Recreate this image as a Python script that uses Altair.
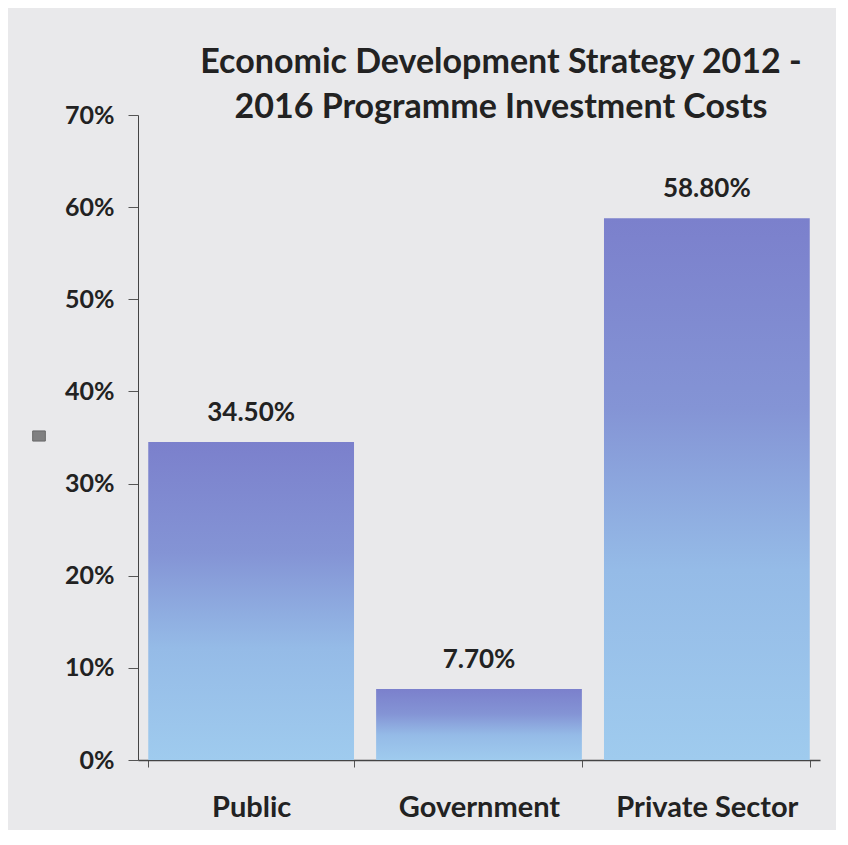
import altair as alt
import pandas as pd

categories = ["Public", "Government", "Private Sector"]
values = [0.345, 0.077, 0.588]
y_ticks = [0, 0.1, 0.2, 0.3, 0.4, 0.5, 0.6, 0.7]

df = pd.DataFrame({"cat": categories, "val": values, "series": [" "] * len(categories)})

FONT = "Lato"
TXT = "#222222"

gradient = alt.Gradient(
    gradient="linear",
    x1=0, y1=0, x2=0, y2=1,
    stops=[
        alt.GradientStop(color="#7b80cc", offset=0),
        alt.GradientStop(color="#8494d5", offset=0.35),
        alt.GradientStop(color="#95bbe7", offset=0.65),
        alt.GradientStop(color="#9fcbee", offset=1),
    ],
)

x_enc = alt.X(
    "cat:N",
    sort=categories,
    title=None,
    scale=alt.Scale(paddingInner=0.097, paddingOuter=0.045),
    axis=alt.Axis(
        labelAngle=0,
        labelFont=FONT,
        labelFontSize=29,
        labelFontWeight="bold",
        labelColor=TXT,
        labelPadding=26,
        labelLimit=400,
        tickBand="extent",
        tickSize=7,
        tickColor="#555555",
        domainColor="#444444",
        domainWidth=1.5,
    ),
)
y_enc = alt.Y(
    "val:Q",
    title=None,
    scale=alt.Scale(domain=[0, 0.7]),
    axis=alt.Axis(
        values=y_ticks,
        format=".0%",
        grid=False,
        labelFont=FONT,
        labelFontSize=25,
        labelFontWeight="bold",
        labelColor=TXT,
        labelPadding=14,
        tickSize=10,
        tickColor="#555555",
        domainColor="#444444",
    ),
)

bars = alt.Chart(df).mark_bar(fill=gradient).encode(x=x_enc, y=y_enc)

labels = alt.Chart(df).mark_text(
    font=FONT, fontSize=26, fontWeight="bold", color=TXT, baseline="alphabetic", dy=-21
).encode(x=alt.X("cat:N", sort=categories), y="val:Q", text=alt.Text("val:Q", format=".2%"))

legend_layer = alt.Chart(df).mark_point(size=0, filled=True).encode(
    x=alt.X("cat:N", sort=categories),
    y=alt.Y("val:Q"),
    color=alt.Color(
        "series:N",
        scale=alt.Scale(range=["#555555"]),
        legend=alt.Legend(
            title=None,
            orient="none",
            legendX=-106,
            legendY=314,
            symbolType="M-1,-0.8H1V0.8H-1Z",
            symbolSize=160,
            symbolFillColor="#555555",
            symbolStrokeColor="#333333",
            symbolStrokeWidth=1,
            labelFontSize=1,
        ),
    ),
)

chart = (
    alt.layer(bars, labels, legend_layer)
    .properties(
        width=682,
        height=645,
        padding={"left": 130, "top": 107, "right": 16, "bottom": 70},
        autosize=alt.AutoSizeParams(type="none"),
        background="#e9e9eb",
        title=alt.Title(
            text=["Economic Development Strategy 2012 -", "2016 Programme Investment Costs"],
            font=FONT,
            fontSize=34,
            fontWeight="bold",
            color=TXT,
            anchor="middle",
            dx=22,
            lineHeight=45,
            baseline="bottom",
            offset=-56,
        ),
    )
    .configure_view(stroke=None)
)

chart.save("out.html", embed_options={"renderer": "svg", "actions": False})
